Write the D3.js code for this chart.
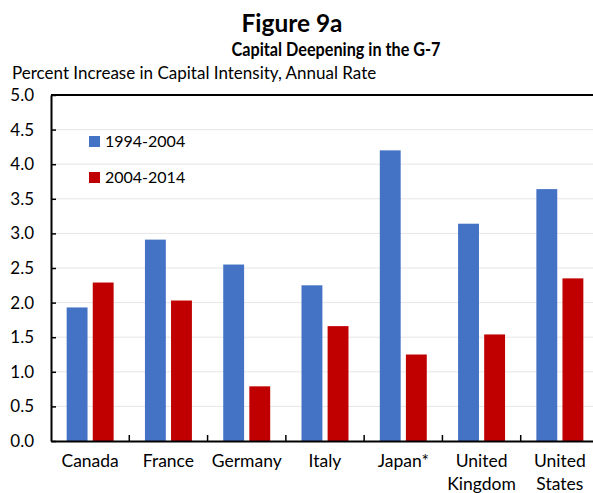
<!DOCTYPE html>
<html>
<head>
<meta charset="utf-8">
<script src="https://cdn.jsdelivr.net/npm/d3@7"></script>
<style>
  html, body { margin: 0; padding: 0; background: #fff; }
  svg { display: block; }
  text { font-family: Lato, "Open Sans", sans-serif; fill: #000; }
</style>
</head>
<body>
<svg id="chart" width="593" height="493"></svg>
<script>
const categories = ["Canada", "France", "Germany", "Italy", "Japan*", "United\nKingdom", "United\nStates"];
const seriesNames = ["1994-2004", "2004-2014"];
const values1994_2004 = [1.93, 2.91, 2.55, 2.25, 4.20, 3.14, 3.64];
const values2004_2014 = [2.29, 2.03, 0.79, 1.66, 1.25, 1.54, 2.35];
const yTicks = [0, 0.5, 1, 1.5, 2, 2.5, 3, 3.5, 4, 4.5, 5];
const colors = ["#4472C4", "#C00000"];

const svg = d3.select("#chart");
const x0 = 51, x1 = 599, yTop = 95, yBot = 441;

const x = d3.scaleBand().domain(categories).range([x0, x1]).paddingInner(0).paddingOuter(0);
const xs = d3.scaleBand().domain(seriesNames).range([0, x.bandwidth()]).paddingInner(0.2).paddingOuter(0.6);
const y = d3.scaleLinear().domain([0, 5]).range([yBot, yTop]);

// gridlines
svg.append("g").selectAll("line").data(yTicks.filter(d => d > 0 && d < 5)).join("line")
  .attr("x1", x0).attr("x2", x1).attr("y1", d => y(d)).attr("y2", d => y(d))
  .attr("stroke", "#e6e6e6").attr("stroke-width", 1);

// bars
const data = categories.map((c, i) => ({ c, vals: [values1994_2004[i], values2004_2014[i]] }));
const groups = svg.append("g").selectAll("g").data(data).join("g")
  .attr("transform", d => `translate(${x(d.c)},0)`);
groups.selectAll("rect").data(d => d.vals.map((v, j) => ({ v, s: seriesNames[j], j }))).join("rect")
  .attr("x", d => xs(d.s)).attr("width", xs.bandwidth())
  .attr("y", d => y(d.v)).attr("height", d => y(0) - y(d.v))
  .attr("fill", d => colors[d.j]);

// top border
svg.append("line").attr("x1", x0).attr("x2", x1).attr("y1", yTop).attr("y2", yTop)
  .attr("stroke", "#000").attr("stroke-width", 2);

// y axis
const yAxis = d3.axisLeft(y).tickValues(yTicks).tickFormat(d3.format(".1f")).tickSizeInner(-5).tickSizeOuter(0).tickPadding(17);
const gy = svg.append("g").attr("transform", `translate(${x0},0)`).call(yAxis);
gy.select(".domain").attr("stroke", "#000").attr("stroke-width", 2);
gy.selectAll(".tick line").attr("stroke", "#000").attr("stroke-width", 1.5);
gy.selectAll(".tick text").attr("font-size", 17).attr("font-family", "Lato, sans-serif").attr("fill", "#000");

// x axis
const xAxis = d3.axisBottom(x).tickSize(0).tickFormat("");
const gx = svg.append("g").attr("transform", `translate(0,${yBot})`).call(xAxis);
gx.select(".domain").attr("stroke", "#000").attr("stroke-width", 2);
gx.selectAll(".tick").remove();
gx.append("g").selectAll("line").data(categories.slice(1)).join("line")
  .attr("x1", d => x(d)).attr("x2", d => x(d)).attr("y1", 0).attr("y2", -6)
  .attr("stroke", "#000").attr("stroke-width", 1.5);
gx.append("g").selectAll("text").data(categories).join("text")
  .attr("text-anchor", "middle").attr("font-size", 17.5)
  .attr("transform", d => `translate(${x(d) + x.bandwidth() / 2},0)`)
  .each(function (d) {
    const lines = d.split("\n");
    d3.select(this).selectAll("tspan").data(lines).join("tspan")
      .attr("x", 0).attr("y", (l, i) => 26 + i * 23).text(l => l);
  });

// titles
svg.append("text").attr("x", 292).attr("y", 32).attr("text-anchor", "middle")
  .attr("font-size", 24).attr("font-weight", "bold")
  .attr("textLength", 101).attr("lengthAdjust", "spacingAndGlyphs").text("Figure 9a");
svg.append("text").attr("x", 336).attr("y", 56).attr("text-anchor", "middle")
  .attr("font-size", 19).attr("font-weight", "bold")
  .attr("textLength", 209).attr("lengthAdjust", "spacingAndGlyphs").text("Capital Deepening in the G-7");
svg.append("text").attr("x", 12).attr("y", 79).attr("font-size", 17)
  .text("Percent Increase in Capital Intensity, Annual Rate");

// legend
const leg = svg.append("g").selectAll("g").data(seriesNames).join("g")
  .attr("transform", (d, i) => `translate(89,${136 + i * 36})`);
leg.append("rect").attr("width", 11).attr("height", 11).attr("fill", (d, i) => colors[i]);
leg.append("text").attr("x", 16).attr("y", 11).attr("font-size", 16).text(d => d);
</script>
</body>
</html>
